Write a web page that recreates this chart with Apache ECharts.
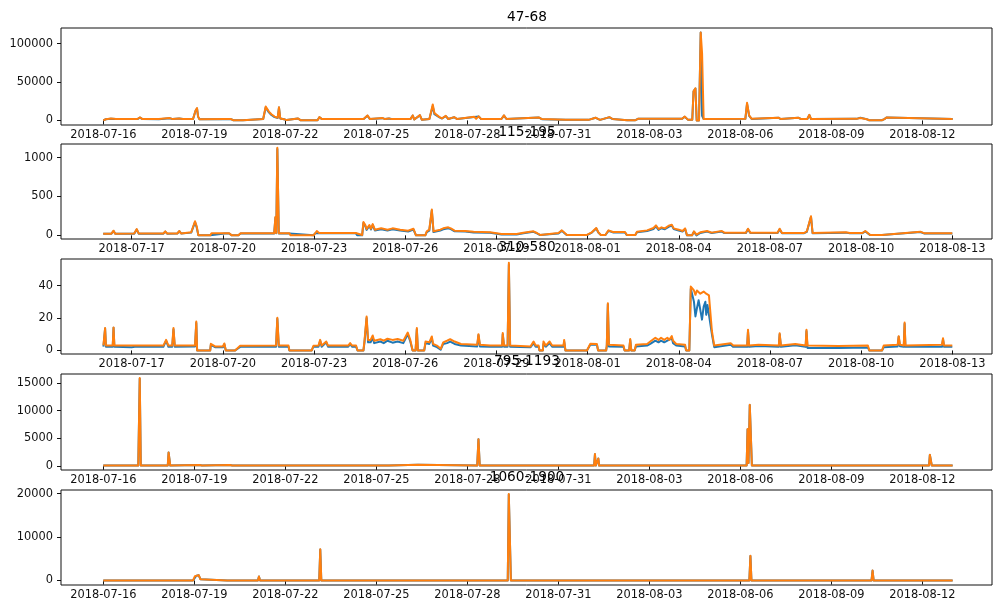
<!DOCTYPE html>
<html>
<head>
<meta charset="utf-8">
<script src="https://cdn.jsdelivr.net/npm/echarts@6/dist/echarts.min.js"></script>
<style>
  html, body { margin: 0; padding: 0; background: #fff; }
  #chart { width: 993px; height: 610px; }
</style>
</head>
<body>
<div id="chart"></div>
<script>
// Panel titles (wavelength bands)
const titles = ['47-68', '115-195', '310-580', '795-1193', '1060-1900'];

// Date tick labels (MM-DD, year 2018)
const dateTicksA = ['07-16', '07-19', '07-22', '07-25', '07-28', '07-31', '08-03', '08-06', '08-09', '08-12'];
const dateTicksB = ['07-17', '07-20', '07-23', '07-26', '07-29', '08-01', '08-04', '08-07', '08-10', '08-13'];

// Value tick labels
const yTicks47 = [0, 50000, 100000];
const yTicks115 = [0, 500, 1000];
const yTicks310 = [0, 20, 40];
const yTicks795 = [0, 5000, 10000, 15000];
const yTicks1060 = [0, 10000, 20000];

// ---- 47-68 ----
const time47 = ['07-16 00:00','07-16 02:00','07-16 06:00','07-16 10:00','07-17 03:00','07-17 05:00','07-17 07:00','07-17 20:00','07-18 04:30','07-18 07:00',
  '07-18 12:00','07-18 15:00','07-18 23:00','07-19 01:00','07-19 02:10','07-19 03:00','07-19 04:00','07-20 00:30','07-20 02:00','07-20 05:00',
  '07-20 07:00','07-20 14:30','07-20 15:30','07-21 06:30','07-21 08:30','07-21 11:00','07-21 13:00','07-21 15:30','07-21 18:00','07-21 19:00',
  '07-21 20:00','07-21 23:00','07-22 01:00','07-22 10:00','07-22 12:00','07-23 01:30','07-23 03:00','07-23 05:00','07-24 14:00','07-24 17:00',
  '07-24 19:00','07-25 05:00','07-25 07:00','07-25 10:00','07-25 12:00','07-26 03:00','07-26 04:50','07-26 06:00','07-26 10:30','07-26 12:00',
  '07-26 18:00','07-26 20:40','07-26 22:00','07-27 02:00','07-27 04:00','07-27 07:00','07-27 09:00','07-27 13:40','07-27 16:00','07-28 05:30',
  '07-28 07:00','07-28 09:00','07-28 11:00','07-29 03:00','07-29 05:00','07-29 07:00','07-30 08:40','07-30 11:00','07-31 06:00','08-01 00:00',
  '08-01 05:30','08-01 09:00','08-01 16:30','08-01 19:00','08-02 06:30','08-02 13:00','08-02 15:00','08-04 02:00','08-04 04:00','08-04 06:30',
  '08-04 10:00','08-04 11:00','08-04 12:30','08-04 13:30','08-04 15:20','08-04 16:40','08-04 17:45','08-04 19:00','08-06 04:00','08-06 05:20',
  '08-06 07:00','08-06 09:00','08-07 06:20','08-07 08:00','08-07 22:00','08-08 00:00','08-08 05:00','08-08 06:40','08-08 08:00','08-09 20:00',
  '08-09 23:00','08-10 04:00','08-10 06:00','08-10 16:00','08-10 18:00','08-10 19:40','08-10 21:00','08-13 00:00'];
const blue47 = [0,1500,2300,1700,1800,3700,1700,1600,2900,1700,
  2600,1700,1800,12500,15500,5000,1600,1600,300,1600,
  200,200,1800,1800,16800,10500,7000,4300,3200,16800,
  2500,1500,400,2500,300,300,4200,1700,1800,6000,
  1700,2900,1700,2500,1700,1700,6200,1200,6600,1000,
  1800,18500,8000,4000,2500,5500,1800,4100,1700,4500,
  1900,5000,1700,1800,6200,1800,3700,1600,700,700,
  3400,700,4100,1800,200,200,2000,2100,4800,1000,
  1000,38000,41500,0,0,114500,6000,1800,2000,21500,
  6000,1900,3300,1800,3300,1800,1800,7000,1800,2000,
  3600,1600,200,200,1700,3800,1700,1700];
const orange47 = [0,1500,2500,1700,1800,3900,1700,1700,3000,1700,
  2600,1700,1800,13000,16000,5000,1600,1700,300,1700,
  200,200,1800,1800,18200,11500,8000,5000,3500,17300,
  2500,1600,400,2600,300,300,4300,1700,1800,6500,
  1700,3000,1700,2600,1700,1700,6500,1200,6900,1000,
  1800,20800,9500,4300,2600,6000,1800,4300,1700,4700,
  2000,5300,1700,1800,6500,1800,3900,1700,700,700,
  3500,700,4300,1800,200,200,2100,2200,5000,1000,
  1000,38000,41900,0,0,114500,87800,1800,2000,23000,
  6500,2000,3500,1800,3500,1800,1800,7300,1800,2000,
  3200,1600,200,200,1700,3900,1700,1700];

// ---- 115-195 ----
const time115 = ['07-16 01:30','07-16 08:00','07-16 09:40','07-16 11:00','07-17 02:00','07-17 04:00','07-17 05:30','07-18 01:00','07-18 02:30','07-18 04:00',
  '07-18 12:00','07-18 13:40','07-18 15:00','07-18 23:00','07-19 02:00','07-19 03:20','07-19 04:40','07-19 14:00','07-19 15:00','07-20 01:30',
  '07-20 03:00','07-20 05:00','07-20 07:00','07-20 12:15','07-20 14:00','07-21 16:30','07-21 17:30','07-21 18:10','07-21 19:00','07-21 20:10',
  '07-22 04:30','07-22 05:30','07-22 23:30','07-23 01:00','07-23 02:10','07-23 04:00','07-24 09:00','07-24 10:00','07-24 14:00','07-24 15:00',
  '07-24 15:40','07-24 16:20','07-24 17:30','07-24 19:40','07-24 21:00','07-24 22:20','07-25 00:00','07-25 05:00','07-25 10:00','07-25 14:00',
  '07-25 20:00','07-26 02:20','07-26 06:30','07-26 08:30','07-26 15:50','07-26 17:00','07-26 19:00','07-26 21:00','07-26 22:20','07-27 03:40',
  '07-27 06:00','07-27 10:00','07-27 12:00','07-27 15:00','07-27 23:20','07-28 06:00','07-28 19:00','07-29 04:00','07-29 16:00','07-29 21:20',
  '07-30 05:15','07-30 08:00','07-30 10:30','07-30 12:00','07-31 01:00','07-31 03:40','07-31 06:00','07-31 07:40','07-31 23:30','08-01 03:20',
  '08-01 06:50','08-01 08:30','08-01 10:30','08-01 14:00','08-01 16:30','08-01 20:00','08-02 05:30','08-02 07:00','08-02 13:40','08-02 15:00',
  '08-02 23:00','08-03 04:00','08-03 06:00','08-03 08:00','08-03 10:20','08-03 13:00','08-03 16:00','08-03 18:30','08-03 20:00','08-04 00:00',
  '08-04 03:00','08-04 05:00','08-04 06:30','08-04 10:30','08-04 12:00','08-04 14:00','08-04 17:00','08-04 22:20','08-05 02:00','08-05 10:00',
  '08-05 12:00','08-06 05:00','08-06 06:40','08-06 08:30','08-07 06:00','08-07 07:40','08-07 09:30','08-08 03:00','08-08 05:10','08-08 08:25',
  '08-08 09:40','08-09 12:00','08-09 15:00','08-10 01:00','08-10 03:20','08-10 07:10','08-10 16:30','08-10 18:00','08-11 22:50','08-12 02:00',
  '08-13 00:00'];
const blue115 = [20,22,55,20,22,75,22,22,48,22,
  24,52,24,35,170,100,0,0,24,24,
  40,24,0,0,24,24,230,28,1110,24,
  24,0,0,28,52,28,28,0,0,160,
  170,125,70,120,75,135,62,78,62,78,
  62,50,75,0,0,42,62,320,42,62,
  78,92,80,52,50,38,33,12,12,28,
  45,25,3,25,25,58,25,3,3,35,
  88,35,3,3,58,38,38,3,3,40,
  55,82,115,70,92,78,110,125,80,62,
  50,80,0,0,45,0,30,48,30,48,
  30,30,78,30,30,78,28,28,45,238,
  28,35,28,28,50,3,3,26,42,24,
  24];
const orange115 = [22,22,60,22,24,81,24,24,52,24,
  24,56,24,40,181,117,0,0,26,26,
  43,26,0,0,26,26,237,30,1128,26,
  26,0,0,30,56,30,30,5,5,172,
  181,137,81,133,85,145,73,90,73,90,
  73,60,85,0,0,52,73,331,52,73,
  90,103,90,60,56,45,39,17,17,34,
  52,30,5,30,30,64,30,5,5,39,
  94,39,5,5,64,43,43,5,5,47,
  64,94,128,81,103,90,124,137,90,73,
  56,90,0,0,52,9,39,56,35,56,
  35,35,85,35,35,85,30,30,52,245,
  30,39,30,30,56,5,5,30,47,26,
  26];

// ---- 310-580 ----
const time310 = ['07-16 01:40','07-16 03:00','07-16 03:40','07-16 09:00','07-16 09:40','07-16 10:20','07-17 00:00','07-17 01:10','07-17 02:30','07-18 01:00',
  '07-18 03:10','07-18 05:00','07-18 08:00','07-18 09:00','07-18 10:00','07-19 02:00','07-19 03:00','07-19 03:40','07-19 14:00','07-19 14:30',
  '07-19 16:00','07-19 17:50','07-20 00:00','07-20 01:10','07-20 02:20','07-20 09:40','07-20 13:40','07-21 18:00','07-21 19:00','07-21 20:10',
  '07-22 03:50','07-22 04:30','07-22 22:10','07-22 23:30','07-23 03:30','07-23 04:50','07-23 06:00','07-23 09:40','07-23 11:00','07-24 03:00',
  '07-24 04:30','07-24 06:00','07-24 09:10','07-24 10:20','07-24 15:00','07-24 15:50','07-24 17:30','07-24 18:40','07-24 20:40','07-24 22:20',
  '07-24 23:30','07-25 04:20','07-25 07:00','07-25 10:00','07-25 14:00','07-25 18:00','07-25 22:30','07-26 02:00','07-26 03:00','07-26 04:00',
  '07-26 05:00','07-26 05:50','07-26 08:10','07-26 09:10','07-26 10:00','07-26 15:00','07-26 16:00','07-26 19:00','07-26 21:00','07-26 22:00',
  '07-27 01:00','07-27 04:00','07-27 06:00','07-27 09:00','07-27 11:30','07-27 15:00','07-27 20:00','07-28 08:50','07-28 09:50','07-28 11:00',
  '07-28 19:00','07-29 04:30','07-29 05:00','07-29 06:00','07-29 08:50','07-29 09:50','07-29 10:50','07-30 03:00','07-30 05:20','07-30 07:00',
  '07-30 09:20','07-30 10:00','07-30 12:40','07-30 13:10','07-30 15:00','07-30 18:00','07-30 20:00','07-31 05:00','07-31 05:30','07-31 06:30',
  '07-31 23:30','08-01 02:10','08-01 07:20','08-01 08:20','08-01 14:40','08-01 15:10','08-01 16:00','08-01 16:50','08-02 04:20','08-02 05:15',
  '08-02 08:50','08-02 09:40','08-02 10:30','08-02 13:10','08-02 14:10','08-02 23:00','08-03 01:30','08-03 05:30','08-03 08:00','08-03 10:00',
  '08-03 12:30','08-03 15:00','08-03 16:30','08-03 18:30','08-03 19:30','08-03 22:00','08-04 05:00','08-04 05:50','08-04 08:20','08-04 09:30',
  '08-04 11:00','08-04 12:00','08-04 13:10','08-04 14:20','08-04 15:40','08-04 17:00','08-04 18:20','08-04 19:40','08-04 21:00','08-04 21:40',
  '08-04 22:40','08-04 23:50','08-05 02:10','08-05 04:00','08-05 17:00','08-05 19:00','08-06 06:00','08-06 06:40','08-06 07:30','08-06 15:00',
  '08-07 07:00','08-07 07:40','08-07 08:40','08-07 20:00','08-08 04:10','08-08 04:50','08-08 05:40','08-09 06:00','08-10 05:20','08-10 06:30',
  '08-10 16:30','08-10 17:50','08-11 04:50','08-11 05:40','08-11 06:40','08-11 09:40','08-11 10:20','08-11 11:00','08-12 15:50','08-12 16:40',
  '08-12 17:30','08-13 00:00'];
const blue310 = [2.3,13.5,2.3,2.3,14.0,2.3,2.0,0.8,2.2,2.2,
  6.0,2.2,2.3,13.0,2.3,2.4,17.0,0,0,3.5,
  3.8,2.0,2.0,3.8,0,0,2.2,2.3,19.5,2.3,
  2.3,0,0,2.3,2.3,6.0,2.3,5.0,2.3,2.3,
  4.0,2.3,2.3,0,0,5.0,20.0,5.0,5.0,8.0,
  4.5,5.5,4.5,6.0,4.8,5.5,4.5,10.0,10.5,5.5,
  5.0,0,0,13.0,0,0,4.5,4.0,7.5,3.0,
  2.0,0.5,4.0,4.5,5.5,4.0,3.0,2.5,9.5,2.5,
  2.3,2.3,10.0,2.3,2.3,53.0,2.3,2.0,4.5,2.3,
  2.3,0,0,4.0,2.3,4.5,2.3,2.3,5.5,0,
  0,3.5,3.5,0,0,2.5,28.5,2.5,2.3,0,
  0,6.5,0,0,2.5,3.0,4.0,6.0,5.0,6.0,
  5.0,6.0,5.0,7.5,4.5,3.0,2.5,0,0,38.0,
  37.0,30.0,21.0,26.0,31.0,25.0,19.0,27.0,30.0,22.0,
  28.0,28.0,10.0,2.0,3.5,2.2,2.2,12.0,2.2,2.8,
  2.2,10.0,2.2,3.2,2.2,12.0,1.5,1.5,1.8,0,
  0,2.0,2.5,8.5,2.5,2.2,16.5,2.2,2.2,7.0,
  2.2,2.3];
const orange310 = [3.1,13.8,3.0,3.0,14.2,3.0,3.0,2.8,3.0,3.0,
  6.5,3.0,3.0,13.8,3.0,3.0,17.8,0,0,4.1,
  4.5,2.5,2.5,4.3,0,0,2.9,3.0,20.2,3.0,
  3.0,0,0,2.9,3.0,6.5,3.0,5.5,3.0,3.0,
  4.5,3.0,3.0,0,0,6.0,20.9,6.5,6.5,9.2,
  6.0,6.9,6.0,7.2,6.5,7.0,6.0,11.0,11.7,6.5,
  6.0,0,0,13.8,0,0,5.5,5.0,8.6,4.0,
  3.0,1.0,5.0,6.0,6.9,5.5,4.0,3.5,10.0,3.5,
  3.0,3.0,10.7,3.0,3.0,54.1,3.0,2.5,5.5,3.0,
  3.0,0,0,5.5,3.0,5.5,3.0,3.0,6.5,0,
  0,4.1,4.0,0,0,3.5,29.1,3.5,3.0,0,
  0,7.0,0,0,3.5,4.0,5.5,7.8,6.5,7.8,
  6.5,7.8,6.5,8.8,6.0,4.0,3.5,0,0,39.4,
  39.4,37.0,34.3,37.0,37.7,35.0,34.3,36.3,36.3,35.0,
  36.0,34.0,12.0,3.0,4.5,3.0,3.0,12.8,3.0,3.5,
  3.0,10.6,3.0,4.0,3.0,12.8,3.0,2.8,3.0,0,
  0,3.0,3.5,8.8,3.5,3.0,17.2,3.0,3.5,7.5,
  3.0,3.0];

// ---- 795-1193 ----
const time795 = ['07-16 00:00','07-17 03:40','07-17 04:50','07-17 05:40','07-18 03:00','07-18 03:40','07-18 04:20','07-18 05:00','07-19 04:00','07-19 06:00',
  '07-20 04:00','07-20 06:00','07-25 08:00','07-25 09:00','07-25 10:00','07-26 09:00','07-26 10:00','07-28 07:50','07-28 08:50','07-28 09:50',
  '08-01 04:20','08-01 05:00','08-01 05:40','08-01 07:00','08-01 07:40','08-01 08:20','08-06 05:00','08-06 05:45','08-06 06:30','08-06 07:30',
  '08-06 08:40','08-06 09:10','08-07 08:00','08-07 09:00','08-07 10:00','08-10 08:00','08-10 08:40','08-10 09:30','08-12 05:20','08-12 06:00',
  '08-12 07:00','08-12 07:30','08-13 00:00'];
const blue795 = [50,50,15800,50,50,2400,2300,50,150,50,
  150,50,50,300,50,180,50,50,4800,50,
  50,2100,50,50,1300,50,50,6600,500,11000,
  11000,50,50,250,50,50,280,50,50,1980,
  1900,50,50];
const orange795 = [50,50,15900,50,50,2400,2300,50,150,50,
  150,50,50,300,50,180,50,50,4830,50,
  50,2120,50,50,1330,50,50,6650,500,11050,
  11050,50,50,250,50,50,280,50,50,1990,
  1900,50,50];

// ---- 1060-1900 ----
const time1060 = ['07-16 00:00','07-18 23:00','07-19 00:30','07-19 01:40','07-19 03:30','07-19 04:50','07-19 06:00','07-20 02:00','07-20 02:40','07-20 03:20',
  '07-21 02:20','07-21 03:10','07-21 04:00','07-23 02:50','07-23 03:40','07-23 04:30','07-29 08:00','07-29 08:50','07-29 09:40','07-29 10:30',
  '08-06 07:10','08-06 08:00','08-06 08:50','08-10 07:50','08-10 08:40','08-10 09:30','08-12 05:00','08-12 06:00','08-12 07:00','08-13 00:00'];
const blue1060 = [20,20,300,1100,1200,300,20,20,460,20,
  20,920,20,20,7150,20,20,19800,19700,20,
  20,5650,20,20,2280,20,20,150,20,20];
const orange1060 = [20,20,1000,1310,1250,300,20,20,460,20,
  20,920,20,20,7210,20,20,19900,19800,20,
  20,5680,20,20,2300,20,20,150,20,20];

// ---------- chart construction ----------
function stamp(s) {
  const [md, hm] = s.split(' ');
  const [mo, d] = md.split('-').map(Number);
  const [h, mi] = (hm || '00:00').split(':').map(Number);
  return Date.UTC(2018, mo - 1, d, h, mi);
}
function pairs(times, vals) { return times.map((t, i) => [stamp(t), vals[i]]); }

const DAY = 86400000;
const T0 = Date.UTC(2018, 6, 16);

const panels = [
  { time: time47,   blue: blue47,   orange: orange47,   ticks: dateTicksA, yTicks: yTicks47,   yMin: -6000, yMax: 120500, x0: -1.3945, x1: 29.298 },
  { time: time115,  blue: blue115,  orange: orange115,  ticks: dateTicksB, yTicks: yTicks115,  yMin: -47,   yMax: 1175,   x0: -1.326,  x1: 29.306 },
  { time: time310,  blue: blue310,  orange: orange310,  ticks: dateTicksB, yTicks: yTicks310,  yMin: -2.2,  yMax: 56.4,   x0: -1.326,  x1: 29.306 },
  { time: time795,  blue: blue795,  orange: orange795,  ticks: dateTicksA, yTicks: yTicks795,  yMin: -760,  yMax: 16640,  x0: -1.3945, x1: 29.298 },
  { time: time1060, blue: blue1060, orange: orange1060, ticks: dateTicksA, yTicks: yTicks1060, yMin: -1030, yMax: 20850,  x0: -1.3945, x1: 29.298 }
];

const gridTops = [28, 144, 259, 374, 490];
const gridHeights = [97, 95, 95, 96, 95];
const titleY = [17, 132, 247, 361, 477];
const FONT = 'DejaVu Sans';
const tickFont = 11.4;

const grids = [], xAxes = [], yAxes = [], series = [], graphics = [];

panels.forEach((p, i) => {
  grids.push({
    left: 61, width: 931, top: gridTops[i], height: gridHeights[i],
    show: true, borderColor: '#111', borderWidth: 1, backgroundColor: 'transparent'
  });
  const xt = p.ticks.map(s => stamp(s + ' 00:00'));
  xAxes.push({
    gridIndex: i, type: 'value',
    min: T0 + p.x0 * DAY, max: T0 + p.x1 * DAY,
    axisLine: { show: false },
    splitLine: { show: false },
    axisTick: { show: true, length: 4, customValues: xt, lineStyle: { color: '#111', width: 1 } },
    axisLabel: {
      customValues: xt, margin: 5, color: '#111', fontFamily: FONT, fontSize: tickFont,
      hideOverlap: false,
      formatter: v => new Date(v).toISOString().slice(0, 10)
    }
  });
  yAxes.push({
    gridIndex: i, type: 'value', min: p.yMin, max: p.yMax,
    axisLine: { show: false },
    splitLine: { show: false },
    axisTick: { show: true, length: 4, customValues: p.yTicks, lineStyle: { color: '#111', width: 1 } },
    axisLabel: {
      customValues: p.yTicks, margin: 8, color: '#111', fontFamily: FONT, fontSize: tickFont,
      formatter: v => String(Math.round(v))
    }
  });
  [['blue', '#1f77b4'], ['orange', '#ff7f0e']].forEach(([key, color], k) => {
    series.push({
      type: 'line', xAxisIndex: i, yAxisIndex: i,
      data: pairs(p.time, p[key]),
      symbol: 'none', showSymbol: false, silent: true, clip: true,
      z: 2 + k,
      lineStyle: { color, width: 2, join: 'round' },
      itemStyle: { color }
    });
  });
  graphics.push({
    type: 'text', x: 527, y: titleY[i], z: 100,
    style: { text: titles[i], align: 'center', verticalAlign: 'middle', font: '13.7px "DejaVu Sans"', fill: '#000' }
  });
});

const chart = echarts.init(document.getElementById('chart'), null, { renderer: 'canvas' });
chart.setOption({
  animation: false,
  backgroundColor: '#fff',
  grid: grids,
  xAxis: xAxes,
  yAxis: yAxes,
  series: series,
  graphic: graphics
});
</script>
</body>
</html>
